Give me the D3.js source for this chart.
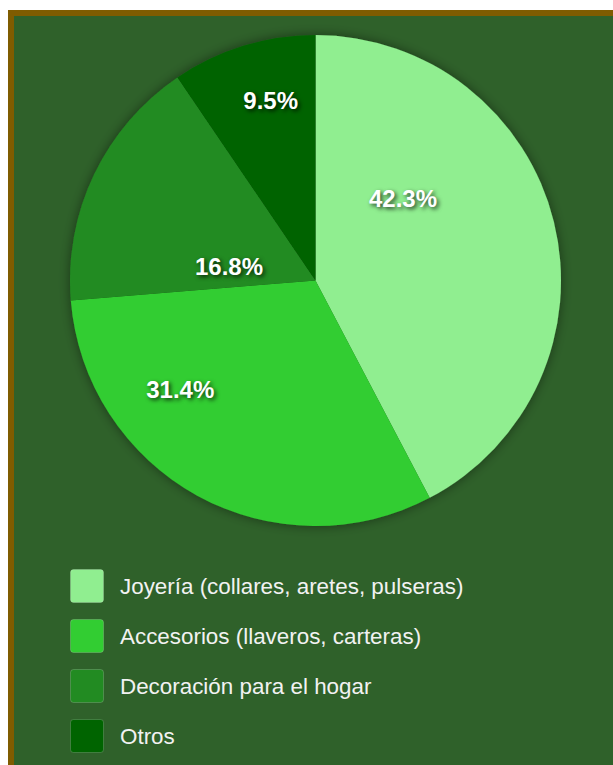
<!DOCTYPE html>
<html>
<head>
<meta charset="utf-8">
<script src="https://cdn.jsdelivr.net/npm/d3@7"></script>
<style>
    html, body { margin: 0; padding: 0; background: #ffffff; overflow: hidden; }
    #panel {
        position: absolute;
        left: 8px; top: 10px;
        width: 640px; height: 800px;
        background: #2f612a;
        border: 6px solid #7f5c00;
    }
    #chart { position: absolute; left: 0; top: 0; }
    .slice-label {
        font-family: "Liberation Sans", Arial, sans-serif;
        font-weight: bold;
        font-size: 24px;
        fill: #ffffff;
        text-shadow: 2px 2px 4px rgba(0,0,0,0.75);
    }
    .legend-text {
        font-family: "Liberation Sans", Arial, sans-serif;
        font-size: 22.4px;
        fill: #f2f2f2;
    }
</style>
</head>
<body>
<div id="panel"></div>
<svg id="chart" width="613" height="765"></svg>
<script>
// data
let categories = ["Joyería (collares, aretes, pulseras)", "Accesorios (llaveros, carteras)", "Decoración para el hogar", "Otros"];
let values = [42.3, 31.4, 16.8, 9.5];
let colors = ["#90ee90", "#32cd32", "#228b22", "#006400"];

// label placement (degrees from 12 o'clock, fraction of radius)
let labelAngles = [46.9, 231.2, 279.4, 346];
let labelRadii = [0.488, 0.707, 0.357, 0.755];

let cx = 315.5, cy = 280.5, radius = 245.5;

let svg = d3.select("#chart");

let defs = svg.append("defs");
let shadow = defs.append("filter").attr("id", "pie-shadow")
    .attr("x", "-20%").attr("y", "-20%").attr("width", "140%").attr("height", "140%");
shadow.append("feDropShadow")
    .attr("dx", 0).attr("dy", 0)
    .attr("stdDeviation", 6)
    .attr("flood-color", "#000000")
    .attr("flood-opacity", 0.45);

let pie = d3.pie().sort(null).value(d => d.value);
let arc = d3.arc().innerRadius(0).outerRadius(radius);

let data = categories.map((c, i) => ({name: c, value: values[i], color: colors[i]}));
let arcs = pie(data);

let pieg = svg.append("g")
    .attr("transform", "translate(" + cx + "," + cy + ")");

pieg.append("g")
    .attr("filter", "url(#pie-shadow)")
    .selectAll("path")
    .data(arcs)
    .enter()
    .append("path")
    .attr("d", arc)
    .attr("fill", d => d.data.color);

// percentage labels
let total = d3.sum(values);
pieg.selectAll(".slice-label")
    .data(arcs)
    .enter()
    .append("text")
    .attr("class", "slice-label")
    .attr("text-anchor", "middle")
    .attr("dominant-baseline", "central")
    .attr("transform", function (d, i) {
        let a = labelAngles[i] * Math.PI / 180;
        let r = labelRadii[i] * radius;
        let p = d3.arc().innerRadius(r).outerRadius(r).centroid({startAngle: a, endAngle: a});
        return "translate(" + p[0] + "," + p[1] + ")";
    })
    .text(d => (d.data.value / total * 100).toFixed(1) + "%");

// legend
let legendY = d3.scaleBand()
    .domain(categories)
    .range([561, 761])
    .paddingInner(0.32)
    .paddingOuter(0.16);

let legend = svg.append("g").attr("class", "legend");
let rows = legend.selectAll("g")
    .data(data)
    .enter()
    .append("g")
    .attr("transform", d => "translate(70," + legendY(d.name) + ")");

rows.append("rect")
    .attr("x", 0.5).attr("y", 0.5)
    .attr("width", 33).attr("height", 33)
    .attr("rx", 3).attr("ry", 3)
    .attr("fill", d => d.color)
    .attr("stroke", "rgba(255,255,255,0.18)")
    .attr("stroke-width", 1);

rows.append("text")
    .attr("class", "legend-text")
    .attr("x", 50)
    .attr("y", 17)
    .attr("dominant-baseline", "central")
    .text(d => d.name);
</script>
</body>
</html>
